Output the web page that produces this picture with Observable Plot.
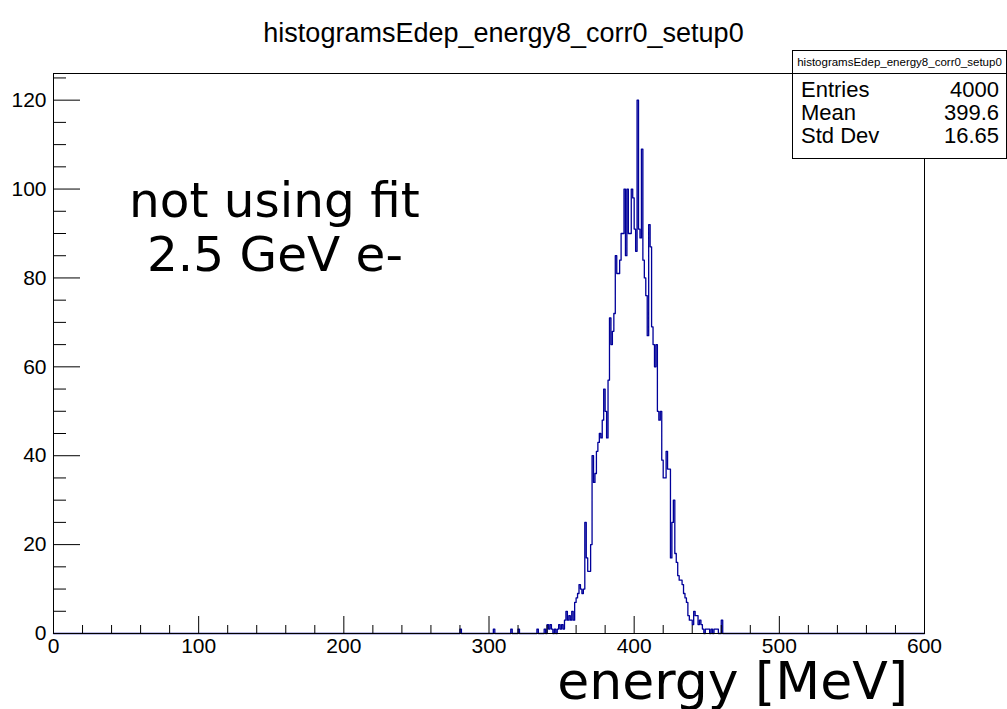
<!DOCTYPE html>
<html>
<head>
<meta charset="utf-8">
<script src="https://cdn.jsdelivr.net/npm/d3@7"></script>
<script src="https://cdn.jsdelivr.net/npm/@observablehq/plot@0.6"></script>
<style>
  html, body { margin: 0; padding: 0; background: #fff; }
  #wrap { position: relative; width: 1007px; height: 709px; overflow: hidden; background: #fff; }
  #wrap svg { position: absolute; left: 0; top: 0; }
  .ov { position: absolute; white-space: nowrap; line-height: 1; color: #000; }
  .helv { font-family: "Liberation Sans", Arial, sans-serif; }
  .dv { font-family: "DejaVu Sans", sans-serif; }
  #stats { position: absolute; left: 792px; top: 50px; width: 213px; height: 107px; border: 1px solid #000; background: #fff; font-family: "Liberation Sans", Arial, sans-serif; }
  #stats .hdr { height: 22px; border-bottom: 1px solid #000; font-size: 11.5px; text-align: center; line-height: 22px; }
  #stats .row { position: absolute; left: 8px; right: 7px; font-size: 22px; line-height: 1; }
  #stats .row span.v { float: right; }
</style>
</head>
<body>
<div id="wrap"></div>
<script>
// ---- data ----
const histTitle = "histogramsEdep_energy8_corr0_setup0";
const xRange = [0, 600];
const yRange = [0, 126];
// isolated low-energy entries (bin low edge in MeV, counts)
const tailEnergy = [280, 303, 315, 320];
const tailCount  = [1, 1, 1, 1];
// contiguous 1-MeV bins starting at 330 MeV
const peakStart = 330;
const peakCount = [
  0, 0, 0, 1, 0, 0, 0, 0, 1, 0,        // 330-339
  2, 1, 2, 1, 0, 1, 0, 1, 2, 1,        // 340-349
  2, 1, 3, 5, 3, 4, 3, 5, 3, 7,        // 350-359
  8, 9, 11, 10, 9, 10, 25, 17, 14, 14, // 360-369
  20, 40, 34, 36, 41, 43, 45, 44, 48, 55, // 370-379
  50, 44, 57, 71, 65, 68, 72, 85, 81, 81, // 380-389
  84, 90, 90, 100, 85, 100, 90, 90, 100, 98, // 390-399
  91, 86, 120, 91, 89, 109, 84, 80, 76, 67, // 400-409
  92, 87, 69, 65, 60, 65, 50, 48, 50, 39, // 410-419
  35, 35, 41, 37, 37, 17, 25, 30, 18, 16, // 420-429
  13, 12, 12, 11, 9, 8, 7, 4, 3, 3,     // 430-439
  2, 5, 4, 4, 2, 3, 2, 1, 0, 1,         // 440-449
  1, 1, 0, 1, 0, 1, 1, 1, 0, 0,         // 450-459
  3, 0                                  // 460-461
];
const xMajorTicks = [0, 100, 200, 300, 400, 500, 600];
const xMinorTicks = d3.range(0, 601, 20).filter(v => v % 100 !== 0);
const yMajorTicks = [0, 20, 40, 60, 80, 100, 120];
const yMinorTicks = d3.range(0, 126, 5).filter(v => v % 20 !== 0);
const statLabels = ["Entries", "Mean", "Std Dev"];
const statValues = ["4000", "399.6", "16.65"];
const annot1 = "not using fit";
const annot2 = "2.5 GeV e-";
const xTitle = "energy [MeV]";

// ---- build the 1-MeV histogram table ----
const nBins = xRange[1] - xRange[0];
const counts = new Array(nBins).fill(0);
tailEnergy.forEach((e, i) => { counts[e] = tailCount[i]; });
peakCount.forEach((c, i) => { counts[peakStart + i] = c; });
const pts = counts.map((c, i) => ({x: i, y: c}));
pts.push({x: nBins, y: counts[nBins - 1]});

const lineColor = "#000099";
const tickFont = {fontSize: 21, fontFamily: "Liberation Sans, Arial, sans-serif"};

const chart = Plot.plot({
  width: 1007,
  height: 709,
  marginLeft: 53,
  marginRight: 83,
  marginTop: 73,
  marginBottom: 76,
  style: {background: "transparent", color: "#000", overflow: "visible"},
  x: {domain: xRange},
  y: {domain: yRange},
  marks: [
    Plot.line(pts, {x: "x", y: "y", curve: "step-after", stroke: lineColor, strokeWidth: 1.3}),
    Plot.axisX(xMajorTicks, {tickSize: -17, tickFormat: () => "", label: null, stroke: "#000"}),
    Plot.axisX(xMinorTicks, {tickSize: -8, tickFormat: () => "", label: null, stroke: "#000"}),
    Plot.axisX(xMajorTicks, {tickSize: 0, tickPadding: 5, label: null, ...tickFont}),
    Plot.axisY(yMajorTicks, {tickSize: -27, tickFormat: () => "", label: null, stroke: "#000"}),
    Plot.axisY(yMinorTicks, {tickSize: -13, tickFormat: () => "", label: null, stroke: "#000"}),
    Plot.axisY(yMajorTicks, {tickSize: 0, tickPadding: 7, label: null, ...tickFont}),
    Plot.frame({stroke: "#000", strokeWidth: 1})
  ]
});
const wrap = document.getElementById("wrap");
wrap.appendChild(chart);

function addText(txt, cls, css) {
  const d = document.createElement("div");
  d.className = "ov " + cls;
  d.textContent = txt;
  Object.assign(d.style, css);
  wrap.appendChild(d);
  return d;
}
addText(histTitle, "helv", {left: "0px", width: "1007px", textAlign: "center", top: "20px", fontSize: "27px"});
addText(annot1, "dv", {left: "129px", top: "176px", fontSize: "48.5px"});
addText(annot2, "dv", {left: "147px", top: "230px", fontSize: "48.5px"});
addText(xTitle, "dv", {right: "99px", top: "661px", fontSize: "52px", lineHeight: "0.8"});

const stats = document.createElement("div");
stats.id = "stats";
const hdr = document.createElement("div");
hdr.className = "hdr";
hdr.textContent = histTitle;
stats.appendChild(hdr);
const rowTops = [28, 51, 74];
statLabels.forEach((lab, i) => {
  const r = document.createElement("div");
  r.className = "row";
  r.style.top = rowTops[i] + "px";
  r.innerHTML = `<span>${lab}</span><span class="v">${statValues[i]}</span>`;
  stats.appendChild(r);
});
wrap.appendChild(stats);
</script>
</body>
</html>
